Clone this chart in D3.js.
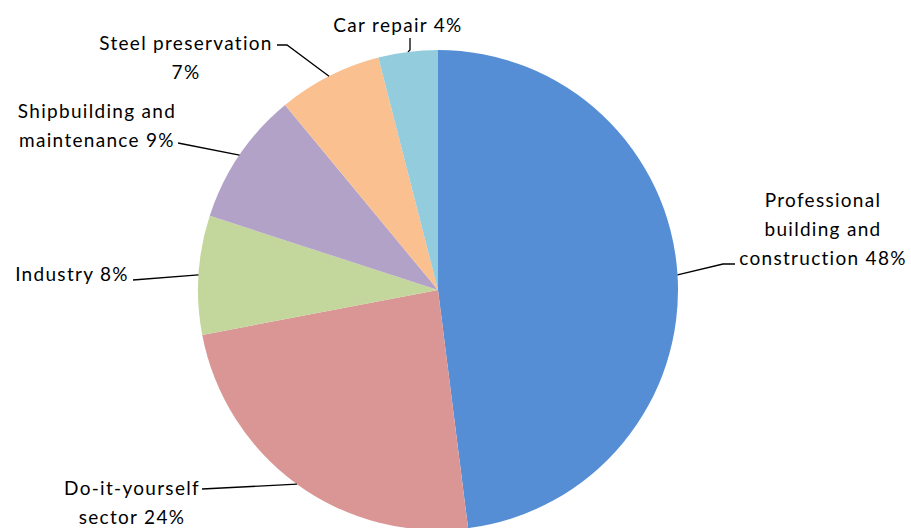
<!DOCTYPE html>
<html>
<head>
<meta charset="utf-8">
<script src="https://cdn.jsdelivr.net/npm/d3@7.9.0/dist/d3.min.js"></script>
<style>
  html, body { margin: 0; padding: 0; background: #fff; }
  svg text { font-family: Lato, "Open Sans", sans-serif; font-size: 19px; letter-spacing: 1.3px; fill: #000; }
</style>
</head>
<body>
<svg id="chart" width="911" height="528"></svg>
<script>
const sectors = ['Professional building and construction', 'Do-it-yourself sector', 'Industry',
  'Shipbuilding and maintenance', 'Steel preservation', 'Car repair'];
const shares = [48, 24, 8, 9, 7, 4];
const labelLines = [
  ['Professional', 'building and', 'construction 48%'],
  ['Do-it-yourself', 'sector 24%'],
  ['Industry 8%'],
  ['Shipbuilding and', 'maintenance 9%'],
  ['Steel preservation', '7%'],
  ['Car repair 4%']
];
const sliceColors = ['#558ed5', '#d99694', '#c3d69b', '#b3a2c7', '#fac090', '#93cddd'];

// label placement (layout only)
const labelPos = [
  { x: 823, y: 207, leader: [[723, 264], [735, 264]] },
  { x: 132, y: 495, leader: [[202, 489]] },
  { x: 72, y: 281, leader: [[133, 280]] },
  { x: 97, y: 118, leader: [[178, 143]] },
  { x: 186, y: 50, leader: [[287, 45], [277, 45]] },
  { x: 398, y: 32, leader: [[410, 50], [410, 38]] }
];

const cx = 438, cy = 290, r = 240, lineGap = 29;
const svg = d3.select('#chart');
const g = svg.append('g').attr('transform', `translate(${cx},${cy})`);

const pie = d3.pie().sort(null).value(d => d);
const arcs = pie(shares);
const arc = d3.arc().innerRadius(0).outerRadius(r);
const edgeArc = d3.arc().innerRadius(r).outerRadius(r);

g.selectAll('path.slice')
  .data(arcs)
  .join('path')
  .attr('class', 'slice')
  .attr('d', arc)
  .attr('fill', (d, i) => sliceColors[i]);

// leader lines
arcs.forEach((d, i) => {
  const [ex, ey] = edgeArc.centroid(d);
  const pts = [[cx + ex, cy + ey], ...labelPos[i].leader];
  svg.append('path')
    .attr('d', d3.line()(pts))
    .attr('fill', 'none')
    .attr('stroke', '#000')
    .attr('stroke-width', 1.3);
});

// labels
labelLines.forEach((lines, i) => {
  const p = labelPos[i];
  const t = svg.append('text').attr('text-anchor', 'middle');
  lines.forEach((ln, j) => {
    t.append('tspan').attr('x', p.x).attr('y', p.y + j * lineGap).text(ln);
  });
});
</script>
</body>
</html>
